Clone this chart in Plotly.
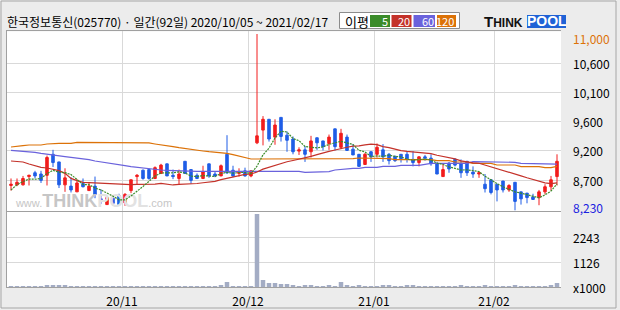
import plotly.graph_objects as go
import pandas as pd

# ---------------- data ----------------
HOLIDAYS = ['2020-10-09', '2020-12-25', '2020-12-31', '2021-01-01', '2021-02-11', '2021-02-12']
DATES = [d for d in pd.bdate_range('2020-10-05', '2021-02-17') if d.strftime('%Y-%m-%d') not in HOLIDAYS]

OPEN = [8620, 8630, 8630, 8760, 8820, 8800, 8780, 9110, 8990, 8630,
        8610, 8520, 8650, 8540, 8610, 8410, 8320, 8420, 8460, 8350,
        8540, 8760, 8860, 8870, 8730, 8810, 8960, 8780, 8730, 9000,
        8870, 8780, 8730, 8960, 8800, 8770, 9110, 8860, 8810, 8850,
        8770, 9290, 9490, 9660, 9380, 9690, 9410, 9350, 9160, 9180,
        9150, 9370, 9320, 9280, 9510, 9220, 9380, 9190, 9110, 8950,
        9150, 9110, 9180, 9110, 9080, 9110, 9110, 9030, 8980, 9070,
        9050, 8960, 8760, 8970, 9030, 8960, 9000, 8830, 8800, 8640,
        8710, 8640, 8690, 8550, 8670, 8520, 8500, 8440, 8430, 8520,
        8600, 8760]
HIGH = [8730, 8730, 8770, 8790, 8850, 8850, 9090, 9180, 8990, 8890,
        8750, 8720, 8730, 8660, 8760, 8560, 8450, 8440, 8490, 8500,
        8710, 8800, 8870, 8890, 8920, 8960, 8960, 8870, 8870, 9000,
        8870, 8810, 8930, 8960, 8840, 8950, 9410, 8930, 8890, 8900,
        8860, 11000, 9710, 9660, 9660, 9690, 9470, 9390, 9220, 9240,
        9400, 9370, 9320, 9420, 9510, 9510, 9420, 9270, 9110, 9130,
        9160, 9280, 9270, 9130, 9080, 9110, 9150, 9160, 9080, 9100,
        9110, 8990, 8960, 8990, 9050, 9030, 9000, 8920, 8840, 8800,
        8710, 8640, 8690, 8640, 8670, 8520, 8500, 8490, 8550, 8640,
        8770, 9110]
LOW = [8540, 8610, 8620, 8620, 8730, 8660, 8620, 8910, 8580, 8520,
       8510, 8520, 8590, 8540, 8420, 8330, 8320, 8310, 8310, 8300,
       8500, 8630, 8710, 8710, 8720, 8800, 8770, 8720, 8640, 8800,
       8650, 8720, 8720, 8740, 8750, 8770, 8800, 8750, 8760, 8760,
       8750, 9270, 9250, 9310, 9260, 9310, 9150, 9110, 9100, 8990,
       9060, 9180, 9170, 9180, 9170, 9190, 9170, 9100, 8920, 8950,
       8990, 9060, 8990, 8950, 8990, 8980, 8980, 8920, 8920, 9010,
       8930, 8800, 8760, 8820, 8920, 8740, 8770, 8740, 8740, 8510,
       8480, 8370, 8510, 8520, 8230, 8320, 8340, 8400, 8310, 8480,
       8540, 8620]
CLOSE = [8640, 8670, 8730, 8780, 8770, 8700, 9060, 8980, 8630, 8740,
         8550, 8660, 8600, 8610, 8480, 8400, 8430, 8340, 8320, 8480,
         8710, 8780, 8730, 8730, 8900, 8940, 8770, 8760, 8800, 8810,
         8700, 8730, 8840, 8770, 8770, 8930, 8820, 8770, 8830, 8770,
         8850, 9400, 9660, 9350, 9570, 9390, 9330, 9150, 9180, 9110,
         9320, 9290, 9230, 9380, 9230, 9440, 9170, 9100, 8920, 9110,
         9070, 9220, 9070, 9010, 9010, 9040, 9040, 8980, 9070, 9050,
         8960, 8800, 8870, 8880, 8940, 8820, 8820, 8800, 8820, 8570,
         8510, 8550, 8550, 8620, 8370, 8410, 8430, 8400, 8520, 8600,
         8710, 9000]
VOLUME = [50, 50, 50, 50, 50, 50, 100, 100, 100, 100,
          50, 50, 50, 50, 50, 50, 50, 50, 50, 50,
          50, 50, 50, 50, 50, 50, 50, 50, 50, 50,
          50, 50, 50, 50, 50, 100, 240, 50, 50, 50,
          50, 3290, 330, 195, 195, 150, 150, 100, 60, 100,
          100, 60, 60, 100, 60, 240, 100, 60, 100, 60,
          60, 60, 100, 100, 60, 60, 100, 100, 60, 60,
          60, 60, 60, 60, 60, 100, 60, 60, 60, 100,
          60, 60, 60, 60, 100, 60, 60, 60, 60, 60,
          100, 195]
# moving-average values before enough in-window closes exist
MA5_HEAD = [8549, 8633, 8680, 8722]
MA20_HEAD = [9005, 8999, 8989, 8957, 8926, 8905, 8895, 8874, 8853, 8811,
             8732, 8696, 8669, 8664, 8659, 8654, 8654, 8649, 8638]
MA60 = [9172, 9167, 9162, 9151, 9141, 9125, 9115, 9099, 9083, 9073,
        9062, 9052, 9047, 9026, 9005, 8989, 8968, 8957, 8942, 8931,
        8916, 8905, 8895, 8879, 8868, 8863, 8858, 8853, 8848, 8842,
        8842, 8842, 8842, 8842, 8842, 8842, 8842, 8842, 8842, 8842,
        8842, 8842, 8842, 8842, 8842, 8842, 8842, 8842, 8842, 8827,
        8827, 8827, 8827, 8837, 8863, 8874, 8889, 8889, 8889, 8905,
        8905, 8905, 8921, 8921, 8921, 8937, 8937, 8937, 8937, 8952,
        8968, 8968, 8968, 8968, 8968, 8968, 8968, 8994, 8994, 8994,
        8994, 8994, 8984, 8984, 8984, 8968, 8968, 8968, 8968, 8957,
        8957, 8957]
MA120 = [9225, 9240, 9246, 9256, 9256, 9256, 9272, 9282, 9282, 9282,
         9282, 9298, 9298, 9298, 9298, 9298, 9298, 9288, 9288, 9288,
         9288, 9288, 9288, 9288, 9272, 9261, 9246, 9230, 9214, 9198,
         9183, 9172, 9162, 9151, 9146, 9136, 9125, 9104, 9078, 9057,
         9036, 9036, 9036, 9036, 9036, 9036, 9036, 9036, 9036, 9036,
         9036, 9036, 9036, 9041, 9041, 9041, 9041, 9041, 9052, 9052,
         9052, 9041, 9041, 9041, 9026, 9026, 9026, 9026, 9026, 9026,
         9026, 9010, 9010, 9010, 8989, 8989, 8989, 8968, 8968, 8968,
         8968, 8942, 8942, 8942, 8942, 8916, 8916, 8916, 8916, 8900,
         8900, 8921]

PRICE_TICK_LABELS = ["10,600", "10,100", "9,600", "9,200", "8,700"]
PRICE_GRID = [10539, 10083, 9633, 9162, 8706]
VOL_TICK_LABELS = ["2243", "1126"]
VOL_GRID = [2243, 1126]
X_TICK_LABELS = ["20/11", "20/12", "21/01", "21/02"]
TITLE = "한국정보통신(025770) · 일간(92일) 2020/10/05 ~ 2021/02/17"
MA_NAMES = ["5", "20", "60", "120"]

# ---------------- styling ----------------
W, H = 620, 310
FONT = "Noto Sans CJK KR"
RED, BLUE = "#f21c1c", "#1f5de6"
MA_COLORS = ["#3b8c2a", "#c4322a", "#6a62dc", "#dc7208"]
VOLC = "#a3acc4"
GRID = "#d9d9d9"
BORDER = "#a0a0a0"
BG = "#ececec"


def px(x):
    return x / W


def py(y):
    return 1 - y / H


X = list(range(len(DATES)))
closes = pd.Series(CLOSE, dtype=float)
ma5 = closes.rolling(5).mean().tolist()
ma5[:len(MA5_HEAD)] = MA5_HEAD
ma20 = closes.rolling(20).mean().tolist()
ma20[:len(MA20_HEAD)] = MA20_HEAD

# month boundaries for vertical grid
month_idx = [i for i in range(1, len(DATES)) if DATES[i].month != DATES[i - 1].month]
grid_x = [i - 0.5 for i in month_idx]

XMIN, XMAX = -0.667, len(DATES) - 0.333
YMIN, YMAX = 8203.4, 11042.4

fig = go.Figure()

# watermark (text trace placed first so candles draw over it)
wm_x = XMIN + (94 - 7) / 554 * (XMAX - XMIN)
wm_y = YMIN + (212 - 204) / 180.7 * (YMAX - YMIN)
fig.add_trace(go.Scatter(
    x=[wm_x], y=[wm_y], mode="text", xaxis="x", yaxis="y", hoverinfo="skip",
    text=["www.<span style='font-size:18px'><b>THINK</b></span>"
          "<span style='font-size:18px;color:#e2e2e2'><b>POOL</b></span>.com"],
    textfont=dict(family="Liberation Sans", size=11, color="#c6c6c6")))

ma_series = [ma5, ma20, MA60, MA120]
dashes = ["2px,1px", "solid", "solid", "solid"]
for vals, col, nm, dash in reversed(list(zip(ma_series, MA_COLORS, MA_NAMES, dashes))):
    fig.add_trace(go.Scatter(x=X, y=vals, mode="lines", name=nm, xaxis="x", yaxis="y",
                             line=dict(color=col, width=1.2, dash=dash), hoverinfo="skip"))

fig.add_trace(go.Candlestick(x=X, open=OPEN, high=HIGH, low=LOW, close=CLOSE,
                             xaxis="x", yaxis="y", whiskerwidth=0,
                             increasing=dict(line=dict(color=RED, width=1), fillcolor=RED),
                             decreasing=dict(line=dict(color=BLUE, width=1), fillcolor=BLUE)))

fig.add_trace(go.Bar(x=X, y=VOLUME, xaxis="x2", yaxis="y2", width=0.75,
                     marker=dict(color=VOLC, line=dict(width=0))))

axis_common = dict(range=[XMIN, XMAX], tickvals=grid_x, showgrid=True, gridcolor=GRID,
                   gridwidth=1, zeroline=False, ticks="", fixedrange=True,
                   showline=True, linecolor=BORDER, linewidth=1)

fig.update_layout(
    width=W, height=H, margin=dict(l=0, r=0, t=0, b=0),
    paper_bgcolor=BG, plot_bgcolor="white", showlegend=False, boxgap=0.4,
    font=dict(family=FONT, size=12, color="#000"),
    xaxis=dict(domain=[px(7), px(561)], anchor="y", side="top", showticklabels=False,
               rangeslider=dict(visible=False), **axis_common),
    yaxis=dict(domain=[py(212), py(31.3)], range=[YMIN, YMAX], anchor="x",
               tickvals=PRICE_GRID, showticklabels=False, ticks="", showgrid=True,
               gridcolor=GRID, zeroline=False, showline=True, linecolor=BORDER, fixedrange=True),
    xaxis2=dict(domain=[px(7), px(561)], anchor="y2", mirror=True, ticktext=X_TICK_LABELS,
                tickfont=dict(family=FONT, size=12, color="#000"), ticklabelstandoff=3,
                **axis_common),
    yaxis2=dict(domain=[py(287.3), py(212)], range=[0, 3375], anchor="x2",
                tickvals=VOL_GRID, showticklabels=False, ticks="", showgrid=True,
                gridcolor=GRID, zeroline=False, showline=True, linecolor=BORDER, fixedrange=True),
)

lab_font = dict(family=FONT, size=12, color="#000")
for v, t in zip(PRICE_GRID, PRICE_TICK_LABELS):
    fig.add_annotation(xref="paper", yref="y", x=px(571), y=v, text=t, showarrow=False,
                       xanchor="left", yanchor="middle", font=lab_font)
vmax, vmin = max(HIGH), min(LOW)
fig.add_annotation(xref="paper", yref="y", x=px(571), y=vmax, yshift=-4, text=f"{vmax:,}",
                   showarrow=False, xanchor="left", yanchor="middle",
                   font=dict(family=FONT, size=12, color="#dc7208"))
fig.add_annotation(xref="paper", yref="y", x=px(571), y=vmin, yshift=3, text=f"{vmin:,}",
                   showarrow=False, xanchor="left", yanchor="middle",
                   font=dict(family=FONT, size=12, color="#1a22e0"))
for v, t in zip(VOL_GRID, VOL_TICK_LABELS):
    fig.add_annotation(xref="paper", yref="y2", x=px(571), y=v, text=t, showarrow=False,
                       xanchor="left", yanchor="middle", font=lab_font)
fig.add_annotation(xref="paper", yref="y2", x=px(571), y=0, text="x1000", showarrow=False,
                   xanchor="left", yanchor="middle", font=lab_font)

# header: title
fig.add_annotation(xref="paper", yref="paper", x=px(5), y=py(21.5), text=TITLE, showarrow=False,
                   xanchor="left", yanchor="middle", font=dict(family=FONT, size=12, color="#000"))
# header: MA legend
fig.add_shape(type="rect", xref="paper", yref="paper", x0=px(339.5), x1=px(459.5),
              y0=py(28.5), y1=py(12.5), line=dict(color="#8c8c8c", width=1), fillcolor="white")
fig.add_annotation(xref="paper", yref="paper", x=px(357), y=py(21.5), text="이평", showarrow=False,
                   xanchor="center", yanchor="middle", font=dict(family=FONT, size=13, color="#000"))
boxes = [(370, 390), (391.5, 411.5), (413.5, 435), (437, 456)]
for (x0, x1), col, nm in zip(boxes, MA_COLORS, MA_NAMES):
    fig.add_shape(type="rect", xref="paper", yref="paper", x0=px(x0), x1=px(x1),
                  y0=py(27), y1=py(15), line=dict(width=0), fillcolor=col)
    fig.add_annotation(xref="paper", yref="paper", x=px(x1 - 0.5), y=py(21.3), text=nm,
                       showarrow=False, xanchor="right", yanchor="middle", borderpad=0,
                       font=dict(family=FONT, size=11, color="white"))
# header: logo
fig.add_annotation(xref="paper", yref="paper", x=px(482), y=py(21.5),
                   text="<b>T<span style='font-size:12px'>HINK</span></b>", showarrow=False,
                   xanchor="left", yanchor="middle",
                   font=dict(family="Liberation Sans", size=15, color="#111"))
fig.add_shape(type="rect", xref="paper", yref="paper", x0=px(527), x1=px(566),
              y0=py(28), y1=py(15), line=dict(width=0), fillcolor="#1f62d6")
fig.add_annotation(xref="paper", yref="paper", x=px(546.5), y=py(21.5), text="<b>POOL</b>",
                   showarrow=False, xanchor="center", yanchor="middle",
                   font=dict(family="Liberation Sans", size=14, color="white"))
# outer frame
fig.add_shape(type="rect", xref="paper", yref="paper", x0=px(1), x1=px(616), y0=py(308),
              y1=py(1), line=dict(color="#a6a6a6", width=1), fillcolor="rgba(0,0,0,0)")

fig.write_html("out.html")
